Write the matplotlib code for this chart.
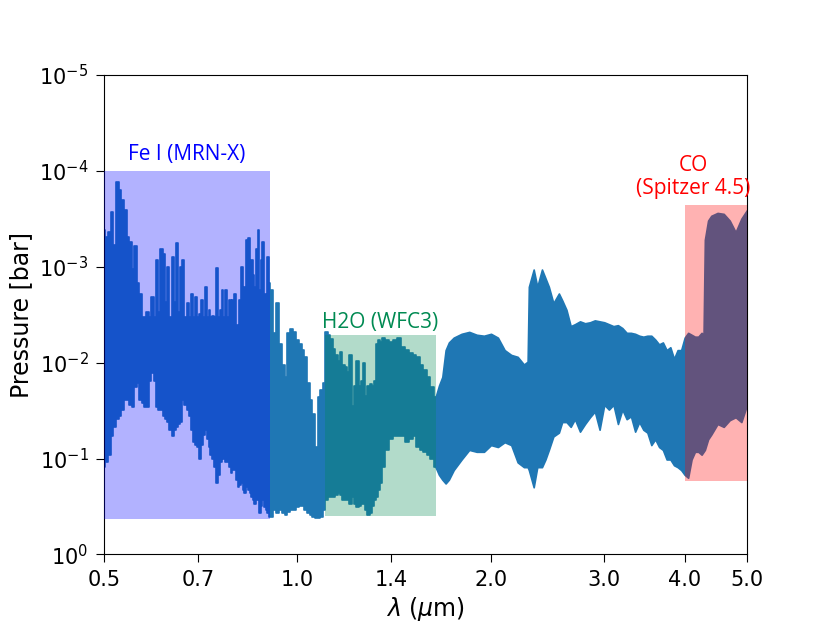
import numpy as np
import matplotlib
matplotlib.use("Agg")
from matplotlib import pyplot as plt
from matplotlib.ticker import FixedLocator, NullLocator

# wavelength grid (micron) and the upper / lower edge of the contribution band, log10(P / bar)
wl = [0.500, 0.505, 0.510, 0.515, 0.520, 0.525, 0.530, 0.535, 0.540, 0.545,
      0.550, 0.555, 0.560, 0.565, 0.570, 0.575, 0.580, 0.585, 0.590, 0.595,
      0.600, 0.605, 0.610, 0.615, 0.620, 0.625, 0.630, 0.635, 0.640, 0.645,
      0.650, 0.655, 0.660, 0.665, 0.670, 0.675, 0.680, 0.685, 0.690, 0.695,
      0.700, 0.705, 0.710, 0.715, 0.720, 0.725, 0.730, 0.735, 0.740, 0.745,
      0.750, 0.755, 0.760, 0.765, 0.770, 0.775, 0.780, 0.785, 0.790, 0.795,
      0.800, 0.805, 0.810, 0.815, 0.820, 0.825, 0.830, 0.835, 0.840, 0.845,
      0.850, 0.855, 0.860, 0.865, 0.870, 0.875, 0.880, 0.885, 0.890, 0.895,
      0.900, 0.905,
      0.91, 0.92, 0.93, 0.94, 0.95, 0.96, 0.97, 0.98, 0.99, 1.00,
      1.01, 1.02, 1.03, 1.04, 1.05, 1.06, 1.07, 1.08, 1.09, 1.10,
      1.11, 1.12, 1.13, 1.14, 1.15, 1.16, 1.17, 1.18, 1.19, 1.20,
      1.21, 1.22, 1.23, 1.24, 1.25, 1.26, 1.27, 1.28, 1.29, 1.30,
      1.31, 1.32, 1.33, 1.34, 1.35, 1.36, 1.38, 1.40, 1.42, 1.44,
      1.46, 1.48, 1.50, 1.52, 1.54, 1.56, 1.58, 1.60, 1.62, 1.64,
      1.66, 1.68, 1.70, 1.72, 1.75, 1.80, 1.85, 1.90, 1.95, 2.00,
      2.05, 2.10, 2.15, 2.20, 2.25, 2.28, 2.29, 2.33, 2.36, 2.40,
      2.43, 2.46, 2.50, 2.55, 2.58, 2.62, 2.66, 2.70, 2.75, 2.80,
      2.85, 2.90, 2.95, 3.00, 3.05, 3.10, 3.15, 3.20, 3.25, 3.30,
      3.35, 3.40, 3.45, 3.50, 3.55, 3.60, 3.65, 3.70, 3.75, 3.80,
      3.85, 3.90, 3.95, 4.00, 4.05, 4.10, 4.15, 4.20, 4.25, 4.28,
      4.30, 4.35, 4.40, 4.50, 4.60, 4.70, 4.80, 4.90, 5.00]

logp_top = [-3.38, -3.31, -3.36, -3.57, -3.23, -3.88, -3.80, -3.69, -3.59, -3.31,
            -3.26, -2.98, -3.21, -2.83, -2.72, -2.47, -2.47, -2.53, -2.47, -2.68,
            -2.47, -3.07, -2.53, -3.18, -3.13, -2.63, -3.00, -2.47, -3.10, -2.63,
            -3.25, -2.53, -3.00, -3.07, -2.47, -2.62, -2.47, -2.72, -2.47, -2.68,
            -2.47, -2.51, -2.65, -2.47, -2.79, -2.47, -2.55, -2.47, -2.49, -2.47,
            -2.99, -2.47, -2.55, -2.76, -2.47, -2.76, -2.47, -2.65, -2.47, -2.65,
            -2.72, -2.39, -2.21, -2.65, -3.00, -2.34, -2.79, -3.28, -3.30, -2.34,
            -3.07, -2.91, -2.79, -3.18, -3.38, -2.76, -3.07, -3.26, -2.72, -2.34,
            -3.10, -2.83,
            -2.76, -2.31, -2.62, -2.19, -1.98, -1.85, -2.31, -2.35, -2.32, -2.24,
            -2.19, -2.13, -2.06, -1.79, -1.61, -1.46, -1.12, -1.64, -1.71, -1.79,
            -2.32, -2.29, -2.25, -2.14, -2.08, -2.02, -2.11, -1.98, -1.95, -1.90,
            -2.08, -1.55, -1.76, -2.02, -1.76, -1.81, -2.00, -1.65, -1.76, -1.78,
            -1.76, -1.81, -2.19, -2.24, -2.21, -2.26, -2.24, -2.21, -2.24, -2.26,
            -2.16, -2.13, -2.10, -2.08, -2.06, -1.98, -1.92, -1.85, -1.75, -1.64,
            -1.76, -1.85, -2.13, -2.21, -2.26, -2.30, -2.32, -2.29, -2.28, -2.30,
            -2.26, -2.13, -2.08, -2.06, -1.98, -2.01, -2.79, -2.97, -2.79, -2.97,
            -2.88, -2.79, -2.62, -2.72, -2.65, -2.55, -2.38, -2.40, -2.43, -2.41,
            -2.42, -2.44, -2.43, -2.42, -2.40, -2.38, -2.39, -2.36, -2.31, -2.31,
            -2.30, -2.28, -2.27, -2.28, -2.28, -2.24, -2.19, -2.21, -2.13, -2.16,
            -2.04, -2.13, -2.13, -2.26, -2.31, -2.29, -2.27, -2.27, -2.31, -2.29,
            -3.28, -3.48, -3.53, -3.56, -3.55, -3.48, -3.36, -3.50, -3.59]

logp_bot = [-0.91, -0.96, -1.04, -1.23, -1.33, -1.41, -1.44, -1.51, -1.61, -1.61,
            -1.56, -1.54, -1.75, -1.79, -1.61, -1.58, -1.54, -1.54, -1.81, -1.89,
            -1.81, -1.54, -1.51, -1.51, -1.44, -1.41, -1.38, -1.30, -1.23, -1.30,
            -1.33, -1.36, -1.38, -1.61, -1.56, -1.51, -1.44, -1.30, -1.17, -1.14,
            -1.12, -0.99, -1.14, -1.25, -1.30, -1.20, -1.12, -1.04, -0.99, -0.91,
            -0.74, -0.83, -0.96, -0.99, -0.99, -0.96, -0.96, -0.91, -0.85, -0.88,
            -0.88, -0.78, -0.70, -0.72, -0.74, -0.67, -0.64, -0.70, -0.67, -0.64,
            -0.60, -0.57, -0.53, -0.57, -0.60, -0.43, -0.51, -0.57, -0.49, -0.46,
            -0.43, -0.39,
            -0.39, -0.46, -0.43, -0.46, -0.43, -0.41, -0.44, -0.46, -0.46, -0.49,
            -0.51, -0.51, -0.46, -0.43, -0.41, -0.39, -0.38, -0.38, -0.39, -0.46,
            -0.57, -0.60, -0.60, -0.60, -0.62, -0.64, -0.62, -0.57, -0.57, -0.57,
            -0.53, -0.60, -0.53, -0.49, -0.51, -0.53, -0.53, -0.46, -0.41, -0.43,
            -0.51, -0.57, -0.60, -0.67, -0.74, -0.91, -1.09, -1.20, -1.23, -1.23,
            -1.23, -1.17, -1.20, -1.23, -1.12, -1.09, -1.07, -1.04, -0.99, -0.91,
            -0.83, -0.78, -0.74, -0.78, -0.88, -0.99, -1.09, -1.07, -1.07, -1.14,
            -1.12, -1.17, -1.14, -0.96, -0.91, -0.91, -0.88, -0.70, -0.91, -0.91,
            -0.99, -1.09, -1.23, -1.27, -1.38, -1.38, -1.33, -1.41, -1.28, -1.36,
            -1.43, -1.49, -1.30, -1.56, -1.51, -1.56, -1.36, -1.51, -1.41, -1.44,
            -1.28, -1.38, -1.30, -1.27, -1.14, -1.20, -1.12, -1.09, -0.99, -0.99,
            -0.93, -0.91, -0.88, -0.83, -0.80, -0.99, -1.07, -1.07, -1.04, -1.07,
            -1.09, -1.20, -1.25, -1.36, -1.33, -1.40, -1.43, -1.38, -1.56]

# shaded bands for the instruments
band_names = ["Fe I (MRN-X)", "H2O (WFC3)", "CO\n(Spitzer 4.5)"]
band_colors = ["blue", "#008A52", "red"]
band_wl_lo = [0.5, 1.105, 4.0]
band_wl_hi = [0.905, 1.64, 5.0]
band_p_top = [1e-4, 5.15e-3, 2.28e-4]
band_p_bot = [0.43, 0.40, 0.171]
label_x = [0.673, 1.346, 4.12]
label_y = [6.85e-5, 3.78e-3, 1.16e-4]

xticks = [0.5, 0.7, 1.0, 1.4, 2.0, 3.0, 4.0, 5.0]
yticks = [1e0, 1e-1, 1e-2, 1e-3, 1e-4, 1e-5]

p_top = 10 ** np.array(logp_top)
p_bot = 10 ** np.array(logp_bot)
# spiky part of the spectrum drawn as steps, the smoother red end as a plain outline
n_step = wl.index(1.64) + 1

fig, ax = plt.subplots(figsize=(8.3, 6.23), dpi=100)

ax.fill_between(wl[:n_step], p_top[:n_step], p_bot[:n_step], step="mid",
                color="C0", lw=1.2, zorder=2)
ax.fill_between(wl[n_step - 1:], p_top[n_step - 1:], p_bot[n_step - 1:],
                color="C0", lw=1.2, zorder=2)

for lo, hi, pt, pb, c in zip(band_wl_lo, band_wl_hi, band_p_top, band_p_bot, band_colors):
    ax.fill_between([lo, hi], [pt, pt], [pb, pb], color=c, alpha=0.3, lw=0, zorder=3)

for name, x, y, c in zip(band_names, label_x, label_y, band_colors):
    ax.text(x, y, name, color=c, ha="center", va="center", fontsize=15,
            family=["Open Sans", "DejaVu Sans"], multialignment="center",
            linespacing=1.1)

ax.set_xscale("log")
ax.set_yscale("log")
ax.set_xlim(0.5, 5.0)
ax.set_ylim(1, 1e-5)

ax.xaxis.set_major_locator(FixedLocator(xticks))
ax.set_xticklabels([f"{t:.1f}" for t in xticks])
ax.set_yticks(yticks)
ax.xaxis.set_minor_locator(NullLocator())
ax.yaxis.set_minor_locator(NullLocator())
ax.tick_params(labelsize=15, length=6, pad=5)

ax.set_xlabel(r"$\lambda$ ($\mu$m)", fontsize=17)
ax.set_ylabel("Pressure [bar]", fontsize=17)

fig.savefig("out.png")
